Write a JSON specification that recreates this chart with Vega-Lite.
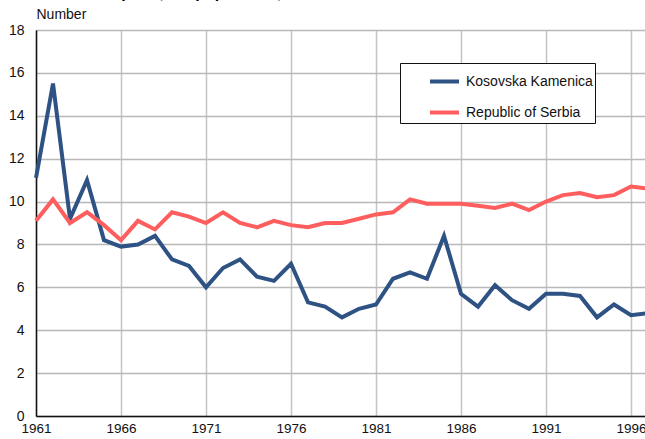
{
  "$schema": "https://vega.github.io/schema/vega-lite/v6.json",
  "autosize": "none",
  "padding": {"left": 36, "top": 30, "right": 0, "bottom": 23},
  "width": 612,
  "height": 386,
  "background": "white",
  "config": {
    "font": "Liberation Sans",
    "view": {"stroke": "#222", "strokeWidth": 1}
  },
  "title": {
    "text": "Live births per 1,000 population, 1961-1997",
    "anchor": "start",
    "frame": "group",
    "font": "Liberation Sans",
    "fontSize": 16,
    "fontWeight": "bold",
    "color": "#000",
    "offset": 6
  },
  "datasets": {
    "rows": [
      {"year": 1961, "series": "Kosovska Kamenica", "value": 11.1},
      {"year": 1962, "series": "Kosovska Kamenica", "value": 15.5},
      {"year": 1963, "series": "Kosovska Kamenica", "value": 9.2},
      {"year": 1964, "series": "Kosovska Kamenica", "value": 11.0},
      {"year": 1965, "series": "Kosovska Kamenica", "value": 8.2},
      {"year": 1966, "series": "Kosovska Kamenica", "value": 7.9},
      {"year": 1967, "series": "Kosovska Kamenica", "value": 8.0},
      {"year": 1968, "series": "Kosovska Kamenica", "value": 8.4},
      {"year": 1969, "series": "Kosovska Kamenica", "value": 7.3},
      {"year": 1970, "series": "Kosovska Kamenica", "value": 7.0},
      {"year": 1971, "series": "Kosovska Kamenica", "value": 6.0},
      {"year": 1972, "series": "Kosovska Kamenica", "value": 6.9},
      {"year": 1973, "series": "Kosovska Kamenica", "value": 7.3},
      {"year": 1974, "series": "Kosovska Kamenica", "value": 6.5},
      {"year": 1975, "series": "Kosovska Kamenica", "value": 6.3},
      {"year": 1976, "series": "Kosovska Kamenica", "value": 7.1},
      {"year": 1977, "series": "Kosovska Kamenica", "value": 5.3},
      {"year": 1978, "series": "Kosovska Kamenica", "value": 5.1},
      {"year": 1979, "series": "Kosovska Kamenica", "value": 4.6},
      {"year": 1980, "series": "Kosovska Kamenica", "value": 5.0},
      {"year": 1981, "series": "Kosovska Kamenica", "value": 5.2},
      {"year": 1982, "series": "Kosovska Kamenica", "value": 6.4},
      {"year": 1983, "series": "Kosovska Kamenica", "value": 6.7},
      {"year": 1984, "series": "Kosovska Kamenica", "value": 6.4},
      {"year": 1985, "series": "Kosovska Kamenica", "value": 8.4},
      {"year": 1986, "series": "Kosovska Kamenica", "value": 5.7},
      {"year": 1987, "series": "Kosovska Kamenica", "value": 5.1},
      {"year": 1988, "series": "Kosovska Kamenica", "value": 6.1},
      {"year": 1989, "series": "Kosovska Kamenica", "value": 5.4},
      {"year": 1990, "series": "Kosovska Kamenica", "value": 5.0},
      {"year": 1991, "series": "Kosovska Kamenica", "value": 5.7},
      {"year": 1992, "series": "Kosovska Kamenica", "value": 5.7},
      {"year": 1993, "series": "Kosovska Kamenica", "value": 5.6},
      {"year": 1994, "series": "Kosovska Kamenica", "value": 4.6},
      {"year": 1995, "series": "Kosovska Kamenica", "value": 5.2},
      {"year": 1996, "series": "Kosovska Kamenica", "value": 4.7},
      {"year": 1997, "series": "Kosovska Kamenica", "value": 4.8},
      {"year": 1961, "series": "Republic of Serbia", "value": 9.1},
      {"year": 1962, "series": "Republic of Serbia", "value": 10.1},
      {"year": 1963, "series": "Republic of Serbia", "value": 9.0},
      {"year": 1964, "series": "Republic of Serbia", "value": 9.5},
      {"year": 1965, "series": "Republic of Serbia", "value": 8.9},
      {"year": 1966, "series": "Republic of Serbia", "value": 8.2},
      {"year": 1967, "series": "Republic of Serbia", "value": 9.1},
      {"year": 1968, "series": "Republic of Serbia", "value": 8.7},
      {"year": 1969, "series": "Republic of Serbia", "value": 9.5},
      {"year": 1970, "series": "Republic of Serbia", "value": 9.3},
      {"year": 1971, "series": "Republic of Serbia", "value": 9.0},
      {"year": 1972, "series": "Republic of Serbia", "value": 9.5},
      {"year": 1973, "series": "Republic of Serbia", "value": 9.0},
      {"year": 1974, "series": "Republic of Serbia", "value": 8.8},
      {"year": 1975, "series": "Republic of Serbia", "value": 9.1},
      {"year": 1976, "series": "Republic of Serbia", "value": 8.9},
      {"year": 1977, "series": "Republic of Serbia", "value": 8.8},
      {"year": 1978, "series": "Republic of Serbia", "value": 9.0},
      {"year": 1979, "series": "Republic of Serbia", "value": 9.0},
      {"year": 1980, "series": "Republic of Serbia", "value": 9.2},
      {"year": 1981, "series": "Republic of Serbia", "value": 9.4},
      {"year": 1982, "series": "Republic of Serbia", "value": 9.5},
      {"year": 1983, "series": "Republic of Serbia", "value": 10.1},
      {"year": 1984, "series": "Republic of Serbia", "value": 9.9},
      {"year": 1985, "series": "Republic of Serbia", "value": 9.9},
      {"year": 1986, "series": "Republic of Serbia", "value": 9.9},
      {"year": 1987, "series": "Republic of Serbia", "value": 9.8},
      {"year": 1988, "series": "Republic of Serbia", "value": 9.7},
      {"year": 1989, "series": "Republic of Serbia", "value": 9.9},
      {"year": 1990, "series": "Republic of Serbia", "value": 9.6},
      {"year": 1991, "series": "Republic of Serbia", "value": 10.0},
      {"year": 1992, "series": "Republic of Serbia", "value": 10.3},
      {"year": 1993, "series": "Republic of Serbia", "value": 10.4},
      {"year": 1994, "series": "Republic of Serbia", "value": 10.2},
      {"year": 1995, "series": "Republic of Serbia", "value": 10.3},
      {"year": 1996, "series": "Republic of Serbia", "value": 10.7},
      {"year": 1997, "series": "Republic of Serbia", "value": 10.6}
    ]
  },
  "data": {"name": "rows"},
  "mark": {"type": "line", "strokeWidth": 4, "strokeJoin": "miter", "strokeCap": "butt"},
  "encoding": {
    "x": {
      "field": "year",
      "type": "quantitative",
      "scale": {"domain": [1961, 1997], "nice": false, "zero": false},
      "axis": {
        "values": [1961, 1966, 1971, 1976, 1981, 1986, 1991, 1996],
        "format": "d",
        "title": null,
        "grid": true,
        "gridColor": "#c4c4c4",
        "gridWidth": 1.5,
        "domainColor": "#111",
        "domainWidth": 1.5,
        "ticks": false,
        "labelFont": "Liberation Sans",
        "labelFontSize": 13.5,
        "labelColor": "#111",
        "labelPadding": 5,
        "labelFlush": false
      }
    },
    "y": {
      "field": "value",
      "type": "quantitative",
      "scale": {"domain": [0, 18], "nice": false},
      "axis": {
        "values": [0, 2, 4, 6, 8, 10, 12, 14, 16, 18],
        "title": "Number",
        "titleAngle": 0,
        "titleAlign": "left",
        "titleBaseline": "bottom",
        "titleX": 0,
        "titleY": -9,
        "titleFont": "Liberation Sans",
        "titleFontSize": 14,
        "titleFontWeight": "normal",
        "titleColor": "#111",
        "grid": true,
        "gridColor": "#b8b8b8",
        "gridWidth": 1.5,
        "domainColor": "#111",
        "domainWidth": 1.5,
        "ticks": false,
        "labelFont": "Liberation Sans",
        "labelFontSize": 14,
        "labelColor": "#111",
        "labelPadding": 12
      }
    },
    "color": {
      "field": "series",
      "type": "nominal",
      "scale": {
        "domain": ["Kosovska Kamenica", "Republic of Serbia"],
        "range": ["#2e5283", "#ff5e5e"]
      },
      "legend": {
        "title": null,
        "orient": "none",
        "legendX": 364,
        "legendY": 33,
        "direction": "vertical",
        "fillColor": "white",
        "strokeColor": "#111",
        "padding": 2,
        "symbolOffset": 26,
        "symbolType": "stroke",
        "symbolSize": 841,
        "symbolStrokeWidth": 4,
        "labelFont": "Liberation Sans",
        "labelFontSize": 14,
        "labelColor": "#111",
        "rowPadding": 6,
        "labelOffset": 5
      }
    }
  }
}
